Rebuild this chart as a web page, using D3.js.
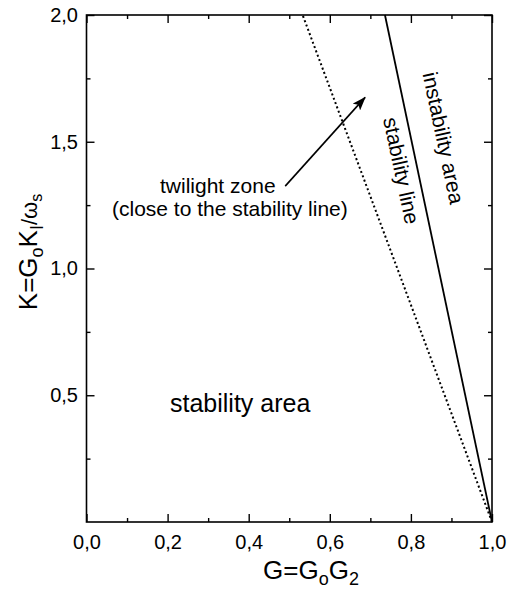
<!DOCTYPE html>
<html>
<head>
<meta charset="utf-8">
<script src="https://cdn.jsdelivr.net/npm/d3@7"></script>
<style>
  body { margin: 0; background: #fff; }
  text { font-family: "Liberation Sans", Arial, Helvetica, sans-serif; fill: #000; }
</style>
</head>
<body>
<svg id="chart" width="513" height="591"></svg>
<script>
// Axis domains and tick positions
const xDomain = [0, 1];
const yDomain = [0, 2];
const xMajorTicks = [0, 0.2, 0.4, 0.6, 0.8, 1.0];
const xMinorTicks = [0.1, 0.3, 0.5, 0.7, 0.9];
const yMajorTicks = [0.5, 1.0, 1.5, 2.0];
const yMinorTicks = [0.25, 0.75, 1.25, 1.75];

// Boundary lines as [G, K] end points
const stabilityLine = [[1.0, 0], [0.736, 2.0]];
const twilightLine = [[1.0, 0], [0.533, 2.0]];

// Arrow from the twilight-zone note, [G, K]
const arrowPts = [[0.49, 1.325], [0.687, 1.675]];

const svg = d3.select("#chart");
const plotLeft = 86.5, plotRight = 492, plotTop = 15, plotBottom = 522;

const x = d3.scaleLinear().domain(xDomain).range([plotLeft, plotRight]);
const y = d3.scaleLinear().domain(yDomain).range([plotBottom, plotTop]);
const fmt = v => d3.format(".1f")(v).replace(".", ",");

// arrow head marker
svg.append("defs").append("marker")
  .attr("id", "head")
  .attr("markerUnits", "userSpaceOnUse")
  .attr("viewBox", "0 0 14 10")
  .attr("refX", 13).attr("refY", 5)
  .attr("markerWidth", 14).attr("markerHeight", 10)
  .attr("orient", "auto")
  .append("path").attr("d", "M0,0 L14,5 L0,10 L3,5 Z").attr("fill", "#000");

// frame
svg.append("rect")
  .attr("x", plotLeft).attr("y", plotTop)
  .attr("width", plotRight - plotLeft).attr("height", plotBottom - plotTop)
  .attr("fill", "none").attr("stroke", "#000").attr("stroke-width", 1.6);

function styleAxis(g) {
  g.select(".domain").remove();
  g.selectAll(".tick line").attr("stroke", "#000").attr("stroke-width", 1.4);
  g.selectAll(".tick text").attr("font-size", 20).attr("fill", "#000")
    .attr("font-family", "Liberation Sans, Arial, sans-serif");
}

// bottom axis with labels
svg.append("g").attr("transform", `translate(0,${plotBottom})`)
  .call(d3.axisBottom(x).tickValues(xMajorTicks).tickSize(-8).tickPadding(13).tickFormat(fmt))
  .call(styleAxis);
svg.append("g").attr("transform", `translate(0,${plotBottom})`)
  .call(d3.axisBottom(x).tickValues(xMinorTicks).tickSize(-4).tickFormat(""))
  .call(styleAxis);
// top mirror ticks
svg.append("g").attr("transform", `translate(0,${plotTop})`)
  .call(d3.axisTop(x).tickValues(xMajorTicks).tickSize(-8).tickFormat(""))
  .call(styleAxis);
svg.append("g").attr("transform", `translate(0,${plotTop})`)
  .call(d3.axisTop(x).tickValues(xMinorTicks).tickSize(-4).tickFormat(""))
  .call(styleAxis);
// left axis with labels
svg.append("g").attr("transform", `translate(${plotLeft},0)`)
  .call(d3.axisLeft(y).tickValues(yMajorTicks).tickSize(-8).tickPadding(8.5).tickFormat(fmt))
  .call(styleAxis);
svg.append("g").attr("transform", `translate(${plotLeft},0)`)
  .call(d3.axisLeft(y).tickValues(yMinorTicks).tickSize(-4).tickFormat(""))
  .call(styleAxis);
// right mirror ticks
svg.append("g").attr("transform", `translate(${plotRight},0)`)
  .call(d3.axisRight(y).tickValues(yMajorTicks).tickSize(-8).tickFormat(""))
  .call(styleAxis);
svg.append("g").attr("transform", `translate(${plotRight},0)`)
  .call(d3.axisRight(y).tickValues(yMinorTicks).tickSize(-4).tickFormat(""))
  .call(styleAxis);

const line = d3.line().x(d => x(d[0])).y(d => y(d[1]));

// twilight (dotted) boundary
svg.append("path").datum(twilightLine)
  .attr("d", line).attr("fill", "none")
  .attr("stroke", "#000").attr("stroke-width", 2)
  .attr("stroke-dasharray", "2,2.6");

// stability (solid) boundary
svg.append("path").datum(stabilityLine)
  .attr("d", line).attr("fill", "none")
  .attr("stroke", "#000").attr("stroke-width", 1.8);

// arrow
svg.append("path").datum(arrowPts)
  .attr("d", line).attr("fill", "none")
  .attr("stroke", "#000").attr("stroke-width", 1.6)
  .attr("marker-end", "url(#head)");

// annotations
svg.append("text").attr("x", 160).attr("y", 193)
  .attr("font-size", 21).text("twilight zone");
svg.append("text").attr("x", 112).attr("y", 216)
  .attr("font-size", 21).text("(close to the stability line)");
svg.append("text").attr("x", 170).attr("y", 412)
  .attr("font-size", 25).text("stability area");

// labels running along the stability line
const p0 = stabilityLine[1], p1 = stabilityLine[0];
const angle = Math.atan2(y(p1[1]) - y(p0[1]), x(p1[0]) - x(p0[0])) * 180 / Math.PI;
svg.append("text")
  .attr("transform", `translate(443.5,138) rotate(${angle})`)
  .attr("text-anchor", "middle").attr("dy", "0.35em")
  .attr("font-size", 21).text("instability area");
svg.append("text")
  .attr("transform", `translate(401.5,170.5) rotate(${angle})`)
  .attr("text-anchor", "middle").attr("dy", "0.35em")
  .attr("font-size", 21).text("stability line");

// x axis title: G=G_oG_2
const xt = svg.append("text").attr("x", 263).attr("y", 579).attr("font-size", 26);
xt.append("tspan").text("G=G");
xt.append("tspan").attr("font-size", 18).attr("dy", 6).text("o");
xt.append("tspan").attr("dy", -6).text("G");
xt.append("tspan").attr("font-size", 18).attr("dy", 6).text("2");

// y axis title: K=G_oK_I/ω_s
const yt = svg.append("text")
  .attr("transform", "translate(37,252) rotate(-90)")
  .attr("text-anchor", "middle").attr("font-size", 26);
yt.append("tspan").text("K=G");
yt.append("tspan").attr("font-size", 18).attr("dy", 6).text("o");
yt.append("tspan").attr("dy", -6).text("K");
yt.append("tspan").attr("font-size", 18).attr("dy", 6).text("I");
yt.append("tspan").attr("font-size", 22).attr("dy", -6).text("/ω");
yt.append("tspan").attr("font-size", 16).attr("dy", 5).text("s");
</script>
</body>
</html>
